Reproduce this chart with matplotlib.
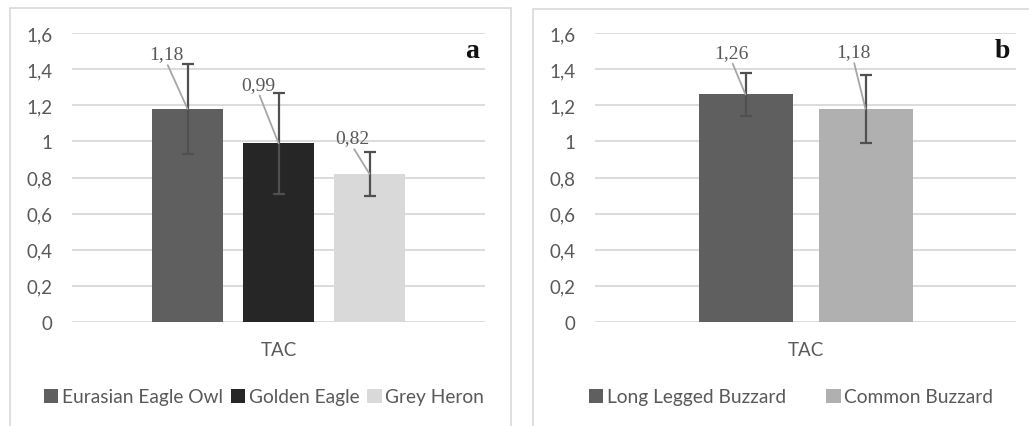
import matplotlib
matplotlib.use("Agg")
import matplotlib.pyplot as plt
from matplotlib.patches import Rectangle

# panel a
species_a = ["Eurasian Eagle Owl", "Golden Eagle", "Grey Heron"]
tac_a = [1.18, 0.99, 0.82]
err_a = [0.25, 0.28, 0.12]
colors_a = ["#5f5f5f", "#262626", "#d9d9d9"]
label_off_a = [(-21, -55), (-20, -59), (-17, -36)]   # px, label centre vs bar top

# panel b
species_b = ["Long Legged Buzzard", "Common Buzzard"]
tac_b = [1.26, 1.18]
err_b = [0.12, 0.19]
colors_b = ["#5f5f5f", "#b0b0b0"]
label_off_b = [(-14, -42), (-12, -57)]

category = ["TAC"]
yticks = [0, 0.2, 0.4, 0.6, 0.8, 1.0, 1.2, 1.4, 1.6]
ytick_labels = ["0", "0,2", "0,4", "0,6", "0,8", "1", "1,2", "1,4", "1,6"]

W, H = 1029, 427
fig = plt.figure(figsize=(W / 100, H / 100), dpi=100)
PX = 72 / 100   # points per pixel

TXT = "#595959"
SANS = ["Lato", "DejaVu Sans"]
SERIF = ["Liberation Serif", "DejaVu Serif"]


def px_axes(x0, x1, ytop, ybot):
    return fig.add_axes([x0 / W, (H - ybot) / H, (x1 - x0) / W, (ybot - ytop) / H])


def panel(ax, names, vals, errs, cols, offs, width, step, tag, legend_x, colsp):
    n = len(vals)
    bars = []
    for i, (nm, v, e, c) in enumerate(zip(names, vals, errs, cols)):
        x = (i - (n - 1) / 2) * step
        b = ax.bar(x, v, width=width, color=c, label=nm, zorder=2)
        bars.append(b)
        ax.errorbar(x, v, yerr=e, fmt="none", ecolor="#505050", elinewidth=1.6,
                    capsize=4.5, capthick=1.6, zorder=3)
        dx, dy = offs[i]
        ax.annotate(f"{v:.2f}".replace(".", ","), xy=(x, v),
                    xytext=(dx * PX, -dy * PX), textcoords="offset points",
                    ha="center", va="center", fontsize=14, family=SERIF,
                    color="#595959", zorder=4,
                    arrowprops=dict(arrowstyle="-", color="#a6a6a6", lw=1.3,
                                    shrinkA=0, shrinkB=0, relpos=(0.5, 0)))
    ax.set_xlim(-0.5, 0.5)
    ax.set_ylim(0, 1.6)
    ax.set_yticks(yticks)
    ax.set_yticklabels(ytick_labels)
    ax.set_xticks([0])
    ax.set_xticklabels(category)
    ax.tick_params(length=0, labelcolor=TXT, labelsize=13.5)
    ax.tick_params(axis="y", pad=14)
    ax.tick_params(axis="x", pad=14)
    for lab in ax.get_xticklabels() + ax.get_yticklabels():
        lab.set_family(SANS)
    ax.grid(axis="y", color="#d9d9d9", lw=1.3, zorder=0)
    ax.set_axisbelow(True)
    for s in ax.spines.values():
        s.set_visible(False)
    ax.text(0.985, 0.94, tag, transform=ax.transAxes, ha="right", va="center",
            fontsize=20, fontweight="bold", family=SERIF, color="#111111")
    leg = fig.legend(handles=bars, loc="center", bbox_to_anchor=(legend_x / W, 1 - 398 / H),
                     ncol=n, frameon=False, handlelength=0.75, handleheight=0.75,
                     handletextpad=0.2, columnspacing=colsp, borderaxespad=0,
                     prop=dict(family=SANS, size=13.8))
    for t in leg.get_texts():
        t.set_color(TXT)


ax_a = px_axes(72, 485, 34, 323)
panel(ax_a, species_a, tac_a, err_a, colors_a, label_off_a,
      71 / 413, 91 / 413, "a", 264, 0.4)

ax_b = px_axes(595, 1016, 34, 323)
panel(ax_b, species_b, tac_b, err_b, colors_b, label_off_b,
      94 / 421, 120 / 421, "b", 791, 2.1)

# chart area borders
for x0, y0, x1 in [(10, 9, 511), (533, 10, 1035)]:
    fig.patches.append(Rectangle((x0 / W, -0.05), (x1 - x0) / W, (H - y0) / H + 0.05,
                                 transform=fig.transFigure, fill=False,
                                 edgecolor="#d9d9d9", lw=1.2))

fig.savefig("out.png", dpi=100, facecolor="white")
